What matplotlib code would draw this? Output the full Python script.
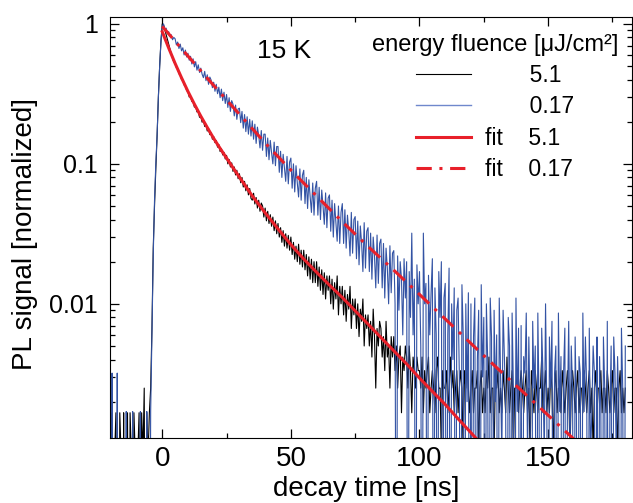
import matplotlib
matplotlib.use('Agg')
import matplotlib.pyplot as plt
import numpy as np

plt.rcParams['font.family'] = ['Liberation Sans', 'DejaVu Sans']

# black trace, 5.1 uJ/cm2, raw counts every 0.5 ns starting at -20 ns
black_peak_counts = 1200
black_counts = [
    0, 2, 0, 1, 2, 0, 0, 2, 1, 0,
    2, 0, 1, 2, 0, 2, 1, 0, 2, 1,
    0, 1, 2, 0, 2, 1, 3, 0, 2, 1,
    2, 3, 8, 30, 60, 110, 190, 360, 600, 900,
    1200, 1180, 1090, 1010, 930, 860, 790, 730, 680, 640,
    630, 585, 575, 528, 522, 480, 478, 440, 432, 400,
    395, 360, 366, 335, 334, 305, 310, 282, 285, 258,
    262, 238, 247, 222, 230, 206, 215, 194, 200, 180,
    188, 170, 176, 158, 165, 147, 154, 139, 145, 130,
    138, 120, 129, 114, 122, 106, 114, 100, 108, 94,
    102, 88, 96, 82, 90, 77, 85, 72, 80, 68,
    66, 74, 62, 69, 58, 66, 55, 63, 60, 50,
    58, 47, 55, 45, 52, 43, 50, 40, 47, 38,
    45, 36, 42, 33, 40, 31, 38, 30, 37, 29,
    36, 27, 33, 25, 31, 24, 32, 23, 29, 22,
    29, 21, 27, 19, 26, 18, 25, 17, 24, 17,
    24, 16, 22, 15, 21, 14, 20, 13, 19, 15,
    19, 12, 18, 11, 17, 13, 19, 10, 16, 12,
    16, 10, 15, 9, 14, 11, 16, 8, 13, 10,
    13, 8, 12, 7, 11, 9, 13, 6, 10, 8,
    10, 6, 9, 5, 11, 7, 3, 8, 6, 9,
    8, 5, 7, 4, 9, 5, 6, 3, 7, 5,
    7, 4, 6, 3, 5, 6, 2, 5, 4, 6,
    5, 3, 6, 4, 2, 5, 4, 3, 5, 4,
    4, 3, 5, 2, 4, 3, 4, 5, 2, 3,
    4, 3, 2, 4, 5, 3, 3, 1, 4, 3,
    3, 4, 2, 3, 5, 3, 4, 2, 3, 4,
    2, 3, 4, 3, 1, 4, 3, 5, 3, 2,
    3, 4, 2, 3, 3, 4, 1, 3, 4, 2,
    3, 2, 4, 3, 5, 2, 3, 3, 1, 4,
    3, 4, 2, 3, 2, 4, 3, 2, 5, 3,
    2, 3, 4, 1, 3, 3, 4, 2, 3, 4,
    3, 2, 3, 4, 2, 3, 1, 4, 3, 2,
    4, 3, 2, 3, 3, 5, 2, 3, 4, 2,
    3, 2, 4, 3, 1, 3, 4, 2, 3, 3,
    2, 4, 3, 2, 3, 4, 3, 1, 3, 4,
    3, 2, 3, 4, 2, 3, 3, 2, 4, 3,
    2, 3, 4, 2, 3, 1, 3, 4, 2, 3,
    3, 4, 2, 3, 3, 2, 4, 3, 2, 3,
    4, 2, 3, 3, 1, 3, 4, 2, 3, 2,
    3,
]

# blue trace, 0.17 uJ/cm2, normalized signal in units of 1e-4, every 0.5 ns from -20 ns
blue_e4 = [
    0, 32, 0, 0, 0, 32, 0, 0, 0, 0,
    0, 0, 17, 0, 0, 0, 0, 17, 0, 0,
    0, 0, 0, 17, 0, 0, 0, 0, 17, 0,
    0, 17, 58, 220, 550, 1000, 1600, 3000, 5000, 7500,
    9600, 10000, 9200, 9330, 8600, 8800, 8130, 8370, 7700, 8000,
    7830, 7080, 7420, 6670, 7170, 6420, 6750, 6000, 6500, 5800,
    6170, 5500, 5870, 5170, 5630, 4930, 5370, 4670, 5100, 4500,
    4830, 4370, 4130, 4580, 3930, 4330, 3700, 4170, 3970, 3500,
    3830, 3300, 3700, 3170, 3530, 2970, 3420, 2830, 3250, 2700,
    3130, 2530, 2970, 2370, 2830, 2670, 2200, 2630, 2080, 2470,
    2500, 1970, 2370, 1800, 2250, 1700, 2170, 1630, 2080, 1580,
    2030, 1500, 1920, 1400, 1830, 1600, 1300, 1730, 1250, 1630,
    1630, 1130, 1530, 1070, 1470, 1200, 1000, 1430, 970, 1330,
    1330, 870, 1230, 800, 1170, 930, 750, 1130, 720, 1030,
    1100, 670, 1000, 630, 970, 730, 580, 920, 550, 830,
    900, 520, 800, 480, 770, 580, 450, 730, 430, 670,
    750, 430, 680, 400, 650, 500, 370, 620, 350, 570,
    600, 330, 550, 300, 520, 380, 280, 500, 270, 450,
    520, 270, 470, 250, 430, 330, 220, 450, 230, 400,
    420, 210, 390, 190, 360, 270, 170, 380, 180, 330,
    350, 170, 320, 150, 300, 220, 130, 310, 140, 270,
    290, 130, 270, 110, 250, 180, 100, 260, 120, 230,
    240, 100, 0, 220, 90, 200, 150, 60, 210, 110,
    200, 0, 170, 80, 320, 60, 150, 0, 190, 100,
    170, 50, 0, 320, 100, 140, 0, 160, 60, 120,
    210, 0, 130, 60, 0, 170, 80, 200, 0, 110,
    140, 0, 60, 180, 0, 100, 40, 130, 0, 90,
    110, 30, 0, 137, 60, 0, 100, 20, 120, 0,
    100, 0, 58, 110, 0, 40, 90, 0, 137, 30,
    80, 0, 100, 40, 0, 110, 58, 0, 90, 20,
    60, 0, 110, 32, 8, 90, 42, 17, 0, 80,
    50, 0, 86, 25, 0, 110, 17, 67, 0, 70,
    0, 42, 32, 86, 8, 58, 17, 0, 75, 25,
    50, 0, 86, 17, 0, 67, 32, 8, 100, 17,
    0, 58, 25, 75, 0, 32, 50, 0, 86, 17,
    42, 0, 32, 67, 0, 17, 75, 8, 50, 25,
    0, 58, 17, 0, 42, 32, 0, 86, 17, 58,
    25, 0, 67, 8, 17, 50, 32, 0, 58, 0,
    42, 17, 0, 58, 25, 0, 75, 0, 17, 50,
    0, 58, 32, 8, 42, 17, 0, 67, 25, 0,
    50,
]

# fit curves
fit51_t = [0, 2.5, 5, 7.5, 10, 12.5, 15, 17.5, 20, 22.5, 25, 27.5, 30, 35, 40,
           45, 50, 55, 60, 65, 70, 75, 80, 85, 90, 95, 100, 105, 110, 115,
           120, 125]
fit51_y = [0.879, 0.673, 0.522, 0.412, 0.329, 0.267, 0.219, 0.182, 0.152,
           0.129, 0.110, 0.0938, 0.0804, 0.059, 0.0447, 0.0343, 0.0265,
           0.0209, 0.0168, 0.0136, 0.0111, 0.00891, 0.00716, 0.00575,
           0.00462, 0.00372, 0.00295, 0.00237, 0.00191, 0.00151, 0.0012,
           0.00095]
fit017_t = [0, 10, 20, 30, 40, 50, 60, 70, 80, 90, 100, 110, 120, 130, 140, 150, 160]
fit017_y = [0.959, 0.589, 0.363, 0.226, 0.141, 0.0902, 0.0589, 0.0386, 0.0257,
            0.0174, 0.01167, 0.0078, 0.00521, 0.0035, 0.00237, 0.0016, 0.00108]

t0 = -20.0
dt = 0.5
t_black = t0 + dt * np.arange(len(black_counts))
t_blue = t0 + dt * np.arange(len(blue_e4))
y_black = np.maximum(np.array(black_counts) / black_peak_counts, 1e-5)
y_blue = np.maximum(np.array(blue_e4) / 1e4, 1e-5)

red = '#e8202a'
blue = '#3353a4'

fig = plt.figure(figsize=(6.33, 5.03), dpi=100)
ax = fig.add_axes([0.1738, 0.1292, 0.8246, 0.837])

ax.plot(t_black, y_black, color='black', lw=0.8, label='       5.1')
ax.plot(t_blue, y_blue, color=blue, lw=0.8, label='       0.17')
ax.plot(fit51_t, fit51_y, color=red, lw=2.2, label='fit    5.1')
ax.plot(fit017_t, fit017_y, color=red, lw=2.2, dashes=(5, 2.5, 1, 2.5),
        label='fit    0.17')

ax.set_yscale('log')
ax.set_xlim(-20.3, 182.6)
ax.set_ylim(0.0011, 1.12)
ax.set_xticks([0, 50, 100, 150])
ax.set_xticks([25, 75, 125, 175], minor=True)
ax.set_yticks([0.01, 0.1, 1])
ax.set_yticklabels(['0.01', '0.1', '1'])
ax.tick_params(which='both', direction='in', top=True, right=True, width=0.9)
ax.tick_params(which='major', length=6.5)
ax.tick_params(which='minor', length=3.5)
ax.tick_params(axis='y', which='major', pad=9, labelsize=18)
ax.tick_params(axis='x', which='major', pad=6, labelsize=20)

ax.set_xlabel('decay time [ns]', fontsize=20, va='baseline')
ax.set_ylabel('PL signal [normalized]', fontsize=20)
ax.xaxis.set_label_coords(0.49, -0.1378)
ax.yaxis.set_label_coords(-0.138, 0.485)

ax.text(0.282, 0.92, '15 K', fontsize=19, va='center', transform=ax.transAxes)

leg = ax.legend(loc='upper right', bbox_to_anchor=(0.973, 0.96), frameon=False,
                fontsize=16.5, title='energy fluence [\u03bcJ/cm\u00b2]',
                title_fontsize=17, handlelength=2.4, handletextpad=0.6,
                labelspacing=0.36, borderpad=0, borderaxespad=0)
leg.get_lines()[1].set_color('#6f88cc')
leg.get_lines()[1].set_linewidth(1.0)

fig.savefig('out.png', dpi=100)
